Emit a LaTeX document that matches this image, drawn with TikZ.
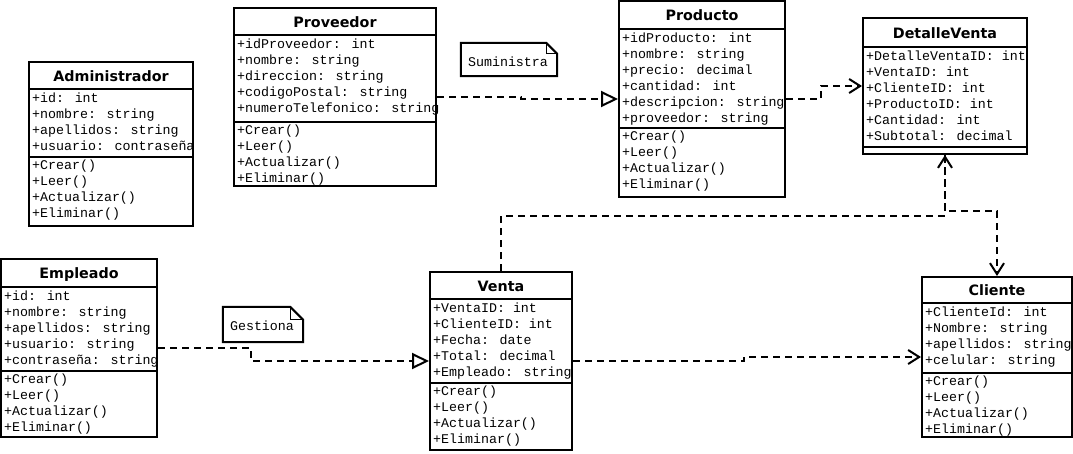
\documentclass[tikz,border=0pt]{standalone}
\usepackage{fontspec}
\newfontfamily\monof{Liberation Mono}
\newfontfamily\titlef{DejaVu Sans}
\usetikzlibrary{arrows.meta}

\tikzset{
  classbox/.style={draw, line width=2pt, inner sep=0pt, fill=white},
  sepline/.style={line width=2pt},
  titletext/.style={font=\titlef\bfseries\fontsize{14.3}{16}\selectfont, inner sep=0pt, anchor=base},
  membertext/.style={font=\monof\fontsize{13.3}{16}\selectfont, inner sep=0pt, anchor=base west},
  notebody/.style={inner sep=0pt},
  noteline/.style={line width=2pt, fill=white, line join=miter},
  foldline/.style={line width=1pt},
  notetext/.style={font=\monof\fontsize{13.3}{16}\selectfont, inner sep=0pt, anchor=base},
  rel/.style={line width=2pt, dash pattern=on 7pt off 5pt},
  realizes/.style={rel, -{Triangle[open, length=17pt, width=16pt, line width=2pt]}},
  depends/.style={rel, -{Straight Barb[length=11pt, width=14pt, line width=2pt]}},
}

% #1 name, #2 left, #3 top, #4 right, #5 bottom, #6 title sep, #7 attr sep, #8 title, #9 attributes
\newcommand{\UMLclass}[9]{%
  \node[classbox, minimum width={(#4-#2)*1pt}, minimum height={(#5-#3)*1pt}] (#1) at ({(#2+#4)/2},{(#3+#5)/2}) {};
  \node[titletext] (#1-title) at ({(#2+#4)/2},{(#3+#6)/2+5.5}) {#8};
  \draw[sepline] (#2,#6) -- (#4,#6);
  \draw[sepline] (#2,#7) -- (#4,#7);
  \foreach \txt [count=\k] in {#9} {\node[membertext] (#1-a\k) at ({#2+3},{#6+13.5+16*(\k-1)}) {\txt};}
}
% #1 name, #2 left, #3 attr sep
\newcommand{\UMLmethods}[3]{%
  \foreach \txt [count=\k] in {+Crear(),+Leer(),+Actualizar(),+Eliminar()} {\node[membertext] (#1-m\k) at ({#2+3},{#3+12+16*(\k-1)}) {\txt};}
}

\begin{document}
\begin{tikzpicture}[x=1pt,y=-1pt]
\fill[white] (0,0) rectangle (1073,453);
\useasboundingbox (0,0) rectangle (1073,453);

\UMLclass{admin}{29}{62}{193}{226}{89}{157}{Administrador}{+id: int,+nombre: string,+apellidos: string,+usuario: contraseña}
\UMLmethods{admin}{29}{157}

\UMLclass{prov}{234}{8}{436}{186}{35}{122}{Proveedor}{+idProveedor: int,+nombre: string,+direccion: string,+codigoPostal: string,+numeroTelefonico: string}
\UMLmethods{prov}{234}{122}

\UMLclass{prod}{619}{1}{785}{197}{29}{128}{Producto}{+idProducto: int,+nombre: string,+precio: decimal,+cantidad: int,+descripcion: string,+proveedor: string}
\UMLmethods{prod}{619}{128}

\UMLclass{det}{863}{18}{1027}{154}{47}{147}{DetalleVenta}{+DetalleVentaID: int,+VentaID: int,+ClienteID: int,+ProductoID: int,+Cantidad: int,+Subtotal: decimal}

\UMLclass{emp}{1}{259}{157}{437}{287}{371}{Empleado}{+id: int,+nombre: string,+apellidos: string,+usuario: string,+contraseña: string}
\UMLmethods{emp}{1}{371}

\UMLclass{venta}{430}{272}{572}{450}{299}{383}{Venta}{+VentaID: int,+ClienteID: int,+Fecha: date,+Total: decimal,+Empleado: string}
\UMLmethods{venta}{430}{383}

\UMLclass{cli}{922}{277}{1072}{437}{303}{373}{Cliente}{+ClienteId: int,+Nombre: string,+apellidos: string,+celular: string}
\UMLmethods{cli}{922}{373}

% notes
\node[notebody, minimum width=96pt, minimum height=33pt] (sumi) at (509,59.5) {};
\draw[noteline] (sumi.south west) -- (sumi.north west) -- ([xshift=-11pt]sumi.north east) -- ([yshift=-11pt]sumi.north east) -- (sumi.south east) -- cycle;
\draw[foldline] ([xshift=-11pt]sumi.north east) -- ([xshift=-11pt,yshift=-11pt]sumi.north east) -- ([yshift=-11pt]sumi.north east);
\node[notetext] (sumi-text) at (508,66) {Suministra};

\node[notebody, minimum width=80pt, minimum height=35pt] (gest) at (263,324.5) {};
\draw[noteline] (gest.south west) -- (gest.north west) -- ([xshift=-13pt]gest.north east) -- ([yshift=-13pt]gest.north east) -- (gest.south east) -- cycle;
\draw[foldline] ([xshift=-13pt]gest.north east) -- ([xshift=-13pt,yshift=-13pt]gest.north east) -- ([yshift=-13pt]gest.north east);
\node[notetext] (gest-text) at (262,330.5) {Gestiona};

% connectors
\draw[realizes] (prov.east) -- ++(84,0) |- (prod.west);
\draw[depends] (prod.east) -- ++(35,0) |- (det.west);
\draw[depends] (venta.north) -- ++(0,-55) -| (det.south);
\draw[depends] (det.south) -- ++(0,56) -| (cli.north);
\draw[depends] (venta.east) -- ++(171,0) |- (cli.west);
\draw[realizes] (emp.east) -- ++(93,0) |- (venta.west);
\end{tikzpicture}
\end{document}
